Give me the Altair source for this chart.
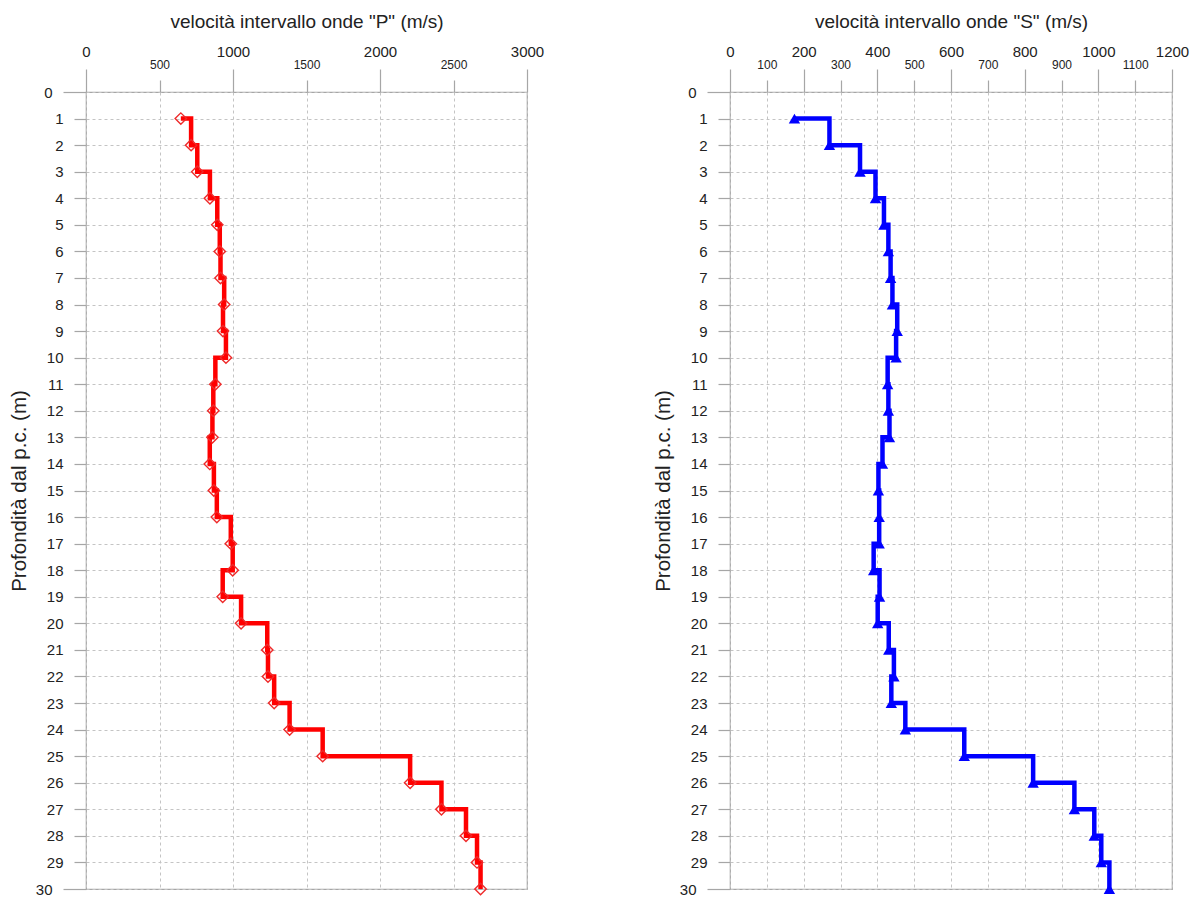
import altair as alt
import pandas as pd

# depth (m) of each reading
depth = list(range(1, 31))

# interval velocity P waves (m/s)
vel_p = [645, 715, 757, 843, 893, 910, 915, 940, 932, 952,
         880, 866, 860, 842, 870, 890, 985, 998, 930, 1055,
         1233, 1238, 1280, 1385, 1610, 2205, 2418, 2585, 2660, 2684]

# interval velocity S waves (m/s)
vel_s = [175, 270, 353, 395, 418, 430, 436, 441, 454, 451,
         428, 430, 433, 414, 403, 405, 405, 390, 406, 401,
         431, 445, 438, 476, 636, 823, 935, 989, 1008, 1030]

p_major = [0, 1000, 2000, 3000]
p_minor = [500, 1500, 2500]
s_major = [0, 200, 400, 600, 800, 1000, 1200]
s_minor = [100, 300, 500, 700, 900, 1100]
y_major = [0, 30]
y_minor = list(range(1, 30))

title_p = 'velocità intervallo onde "P" (m/s)'
title_s = 'velocità intervallo onde "S" (m/s)'
title_y = "Profondità dal p.c.  (m)"

FONT = "Liberation Sans"
GRID = "#c4c4c4"
FRAME = "#a6a6a6"
TXT = "#222222"


def panel(vals, color, mcolor, shape, filled, xmax, majors, minors, xtitle, width):
    df = pd.DataFrame({"depth": depth, "v": vals})
    xscale = alt.Scale(domain=[0, xmax], nice=False, zero=False)
    yscale = alt.Scale(domain=[0, 30], reverse=True, nice=False, zero=False)
    common = dict(domain=False, tickColor=FRAME, tickWidth=1.2, labelFont=FONT,
                  labelColor=TXT, labelOverlap=False, grid=True, gridDash=[3, 3],
                  gridColor=GRID, gridWidth=1)
    ax_major = alt.Axis(orient="top", values=majors, tickSize=23, labelPadding=10,
                        labelFontSize=15, labelFlush=False, format="d",
                        title=xtitle, titleFont=FONT, titleFontSize=19,
                        titleFontWeight="normal", titleColor=TXT, titlePadding=13,
                        **common)
    ax_minor = alt.Axis(orient="top", values=minors, tickSize=12, labelPadding=9,
                        labelFontSize=12, labelFlush=False, format="d", title=None,
                        **common)
    ay_major = alt.Axis(orient="left", values=y_major, tickSize=23, labelPadding=11,
                        labelFontSize=15, labelFlush=False, format="d",
                        title=title_y, titleFont=FONT, titleFontSize=20.5,
                        titleFontWeight="normal", titleColor=TXT, titlePadding=6,
                        **common)
    ay_minor = alt.Axis(orient="left", values=y_minor, tickSize=12, labelPadding=11,
                        labelFontSize=15, labelFlush=False, format="d", title=None,
                        **common)
    line = alt.Chart(df).mark_line(
        color=color, strokeWidth=4.5, interpolate="step-after"
    ).encode(
        x=alt.X("v:Q", scale=xscale, axis=ax_major),
        y=alt.Y("depth:Q", scale=yscale, axis=ay_major),
        order=alt.Order("depth:Q"),
    )
    pts = alt.Chart(df).mark_point(
        shape=shape, filled=filled, color=mcolor, size=130, strokeWidth=1.4, opacity=1
    ).encode(
        x=alt.X("v:Q", scale=xscale, axis=ax_minor),
        y=alt.Y("depth:Q", scale=yscale, axis=ay_minor),
    )
    return alt.layer(line, pts).resolve_axis(x="independent", y="independent").properties(
        width=width, height=797
    )


left = panel(vel_p, "#ff0000", "#ee2a2a", "diamond", False, 3000, p_major, p_minor, title_p, 441)
right = panel(vel_s, "#0000ff", "#0000ff", "triangle-up", True, 1200, s_major, s_minor, title_s, 442)

chart = alt.hconcat(left, right, spacing=203, bounds="flush").properties(
    padding={"left": 0, "top": 3, "right": 5, "bottom": 0}
).configure_view(stroke=FRAME, strokeWidth=1.2)

chart.save("out.html", embed_options={"renderer": "svg", "actions": False})
